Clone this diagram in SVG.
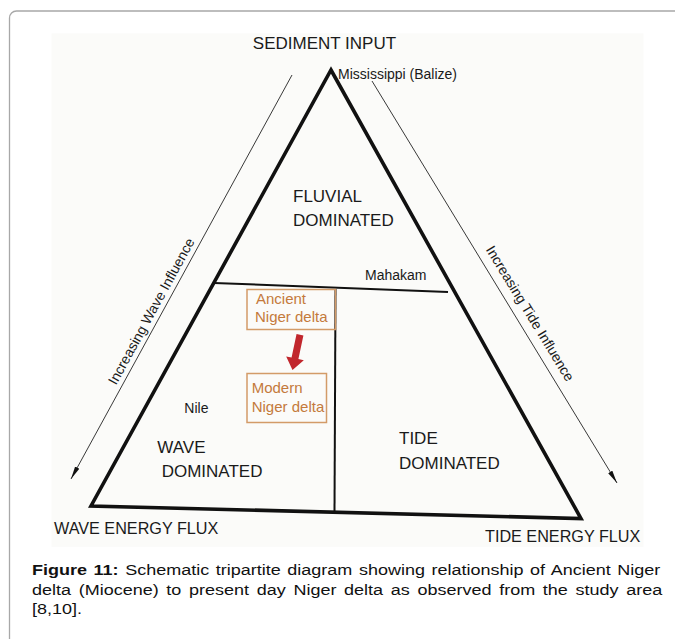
<svg xmlns="http://www.w3.org/2000/svg" width="675" height="639" viewBox="0 0 675 639">
<style>
text{font-family:"Liberation Sans",Arial,sans-serif;fill:#1a1a1a}
.lbl{font-size:14px}
.reg{font-size:17px}
.ax{font-size:16.2px}
.rot{font-size:14px}
.thick{fill:none;stroke:#111;stroke-width:3.6;stroke-linejoin:miter;stroke-miterlimit:10}
.div{stroke:#111;stroke-width:2;fill:none}
.thin{stroke:#222;stroke-width:0.9;fill:none}
.obox{fill:none;stroke:#d39b68;stroke-width:1.5}
.otxt{fill:#c47a3c;font-size:15px}
.cap{font-size:15px;fill:#111}
</style>
<defs>
<marker id="ah" markerUnits="userSpaceOnUse" markerWidth="14" markerHeight="6" refX="13" refY="3" orient="auto"><path d="M0,0.6 L13,3 L0,5.4 z" fill="#111"/></marker>
</defs>
<rect width="675" height="639" fill="#fff"/>
<rect x="9.5" y="11" width="720" height="700" rx="7" fill="#fff" stroke="#a8a8a8" stroke-width="1.3"/>
<rect x="51.5" y="33.3" width="592" height="513.5" fill="#fbfbf9"/>

<g id="connectors">
<path class="thin" d="M292,75 L71,479" marker-end="url(#ah)"/>
<path class="thin" d="M372,81 L617,483" marker-end="url(#ah)"/>
<polygon fill="#c1272d" transform="translate(292.5,370) rotate(12)" points="-3.5,-36 3.5,-36 3.5,-12 9,-12 0,0 -9,-12 -3.5,-12"/>
</g>

<g id="triangle">
<path class="thick" d="M331,70 L581,518.5 L91,506 Z"/>
<path class="div" d="M214,283 L448,292"/>
<path class="div" d="M335.5,289 L334.5,512"/>
</g>

<g id="apex-label"><text class="ax" x="324.5" y="49" text-anchor="middle" style="font-size:17px">SEDIMENT INPUT</text></g>
<g id="mississippi"><text class="lbl" x="338" y="79.3">Mississippi (Balize)</text></g>
<g id="fluvial"><text class="reg" x="293" y="201.5">FLUVIAL</text><text class="reg" x="293" y="226">DOMINATED</text></g>
<g id="mahakam"><text class="lbl" x="365" y="280">Mahakam</text></g>
<g id="nile"><text class="lbl" x="184.3" y="412.7">Nile</text></g>
<g id="wave"><text class="reg" x="157.3" y="453.3">WAVE</text><text class="reg" x="161.7" y="477.3">DOMINATED</text></g>
<g id="tide"><text class="reg" x="399" y="444">TIDE</text><text class="reg" x="399" y="469">DOMINATED</text></g>

<g id="ancient">
<rect class="obox" x="247" y="289.5" width="88.5" height="40"/>
<text class="otxt" x="256" y="304">Ancient</text>
<text class="otxt" x="255" y="322.3">Niger delta</text>
</g>
<g id="modern">
<rect class="obox" x="247" y="373.5" width="79.5" height="49"/>
<text class="otxt" x="251.7" y="393.3">Modern</text>
<text class="otxt" x="251.7" y="411.7">Niger delta</text>
</g>

<g id="wave-influence"><text class="rot" text-anchor="middle" transform="translate(155.6,313.5) rotate(-61.3)">Increasing Wave Influence</text></g>
<g id="tide-influence"><text class="rot" text-anchor="middle" transform="translate(526,316) rotate(58.6)">Increasing Tide Influence</text></g>

<g id="wave-flux"><text class="ax" x="54" y="534">WAVE ENERGY FLUX</text></g>
<g id="tide-flux"><text class="ax" x="485" y="542">TIDE ENERGY FLUX</text></g>

<g id="caption" transform="scale(1.2 1)">
<text class="cap" x="26.67" y="575" style="word-spacing:1.37px"><tspan font-weight="bold">Figure 11:</tspan> Schematic tripartite diagram showing relationship of Ancient Niger</text>
<text class="cap" x="26.67" y="595" style="word-spacing:2.27px">delta (Miocene) to present day Niger delta as observed from the study area</text>
<text class="cap" x="26.67" y="614">[8,10].</text>
</g>
</svg>
